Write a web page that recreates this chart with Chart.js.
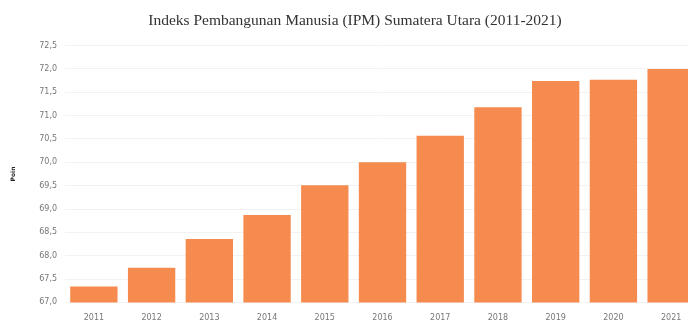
<!DOCTYPE html>
<html>
<head>
<meta charset="utf-8">
<script src="https://cdn.jsdelivr.net/npm/chart.js@4/dist/chart.umd.min.js"></script>
<style>
  html, body { margin: 0; padding: 0; background: #fff; overflow: hidden; }
  #wrap { width: 700px; height: 326px; }
</style>
</head>
<body>
<div id="wrap"><canvas id="myChart"></canvas></div>
<script>
// IPM Sumatera Utara per tahun
var years = ['2011', '2012', '2013', '2014', '2015', '2016', '2017', '2018', '2019', '2020', '2021'];
var ipm = [67.34, 67.74, 68.36, 68.87, 69.51, 70.00, 70.57, 71.18, 71.74, 71.77, 72.00];
var yMin = 67.0;
var yMax = 72.5;

function fmt(v) {
  return v.toFixed(1).replace('.', ',');
}

var ctx = document.getElementById('myChart').getContext('2d');
var myChart = new Chart(ctx, {
  type: 'bar',
  data: {
    labels: years,
    datasets: [{
      label: 'IPM',
      data: ipm,
      backgroundColor: 'rgb(245, 139, 78)',
      borderWidth: 0,
      categoryPercentage: 0.82,
      barPercentage: 1.0
    }]
  },
  options: {
    responsive: true,
    maintainAspectRatio: false,
    animation: false,
    layout: { padding: { left: 10, right: 0, top: 5, bottom: 0 } },
    plugins: {
      legend: { display: false },
      tooltip: { enabled: false },
      title: {
        display: true,
        text: 'Indeks Pembangunan Manusia (IPM) Sumatera Utara (2011-2021)',
        color: '#333',
        font: { family: 'Liberation Serif', size: 15.5, weight: 'normal' },
        padding: { top: 7, bottom: 15 }
      }
    },
    scales: {
      x: {
        grid: { display: false },
        border: { display: false },
        ticks: {
          color: '#777',
          font: { family: 'DejaVu Sans', size: 8 },
          maxRotation: 0,
          padding: 3
        }
      },
      y: {
        min: yMin,
        max: yMax,
        grid: { color: '#f2f2f2', drawTicks: false },
        border: { display: false },
        ticks: {
          stepSize: 0.5,
          color: '#777',
          font: { family: 'DejaVu Sans', size: 8 },
          padding: 8,
          callback: function(v) { return fmt(v); }
        },
        title: {
          display: true,
          text: 'Poin',
          color: '#222',
          font: { family: 'DejaVu Sans', size: 6, weight: 'bold' },
          padding: { top: 0, bottom: 14 }
        }
      }
    }
  }
});
</script>
</body>
</html>
